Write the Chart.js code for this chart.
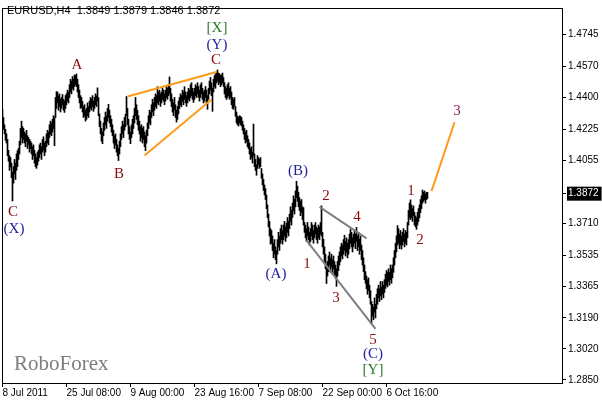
<!DOCTYPE html>
<html>
<head>
<meta charset="utf-8">
<script src="https://cdn.jsdelivr.net/npm/chart.js@4.4.1/dist/chart.umd.min.js"></script>
<style>
  html, body { margin: 0; padding: 0; background: #fff; }
  canvas { display: block; }
</style>
</head>
<body>
<canvas id="chart" width="602" height="401"></canvas>
<script>
// EURUSD H4 bars, one per pixel column: low / high
var lows = [
  1.4270,1.4225,1.4200,1.4165,1.4150,1.4080,1.4050,1.4000,1.4020,1.3960,
  1.3832,1.3930,1.3980,1.3950,1.4000,1.4020,1.4060,1.4090,1.4140,1.4180,
  1.4150,1.4170,1.4150,1.4130,1.4160,1.4120,1.4140,1.4100,1.4120,1.4090,
  1.4060,1.4080,1.4040,1.4020,1.4011,1.4030,1.4050,1.4070,1.4090,1.4060,
  1.4100,1.4110,1.4080,1.4100,1.4130,1.4150,1.4140,1.4180,1.4200,1.4190,
  1.4210,1.4230,1.4135,1.4290,1.4340,1.4370,1.4330,1.4350,1.4320,1.4340,
  1.4360,1.4330,1.4318,1.4340,1.4360,1.4380,1.4370,1.4400,1.4430,1.4420,
  1.4450,1.4440,1.4460,1.4470,1.4460,1.4430,1.4400,1.4370,1.4340,1.4346,
  1.4320,1.4290,1.4300,1.4270,1.4280,1.4300,1.4290,1.4320,1.4340,1.4330,
  1.4350,1.4324,1.4340,1.4360,1.4350,1.4380,1.4300,1.4240,1.4200,1.4160,
  1.4146,1.4190,1.4220,1.4250,1.4230,1.4270,1.4290,1.4260,1.4240,1.4210,
  1.4190,1.4150,1.4120,1.4140,1.4100,1.4080,1.4054,1.4090,1.4130,1.4170,
  1.4200,1.4180,1.4220,1.4240,1.4300,1.4250,1.4200,1.4170,1.4146,1.4180,
  1.4200,1.4230,1.4260,1.4300,1.4280,1.4250,1.4220,1.4200,1.4160,1.4180,
  1.4150,1.4170,1.4130,1.4108,1.4150,1.4190,1.4230,1.4260,1.4250,1.4290,
  1.4320,1.4300,1.4330,1.4350,1.4340,1.4370,1.4360,1.4380,1.4351,1.4370,
  1.4390,1.4380,1.4360,1.4380,1.4400,1.4390,1.4410,1.4420,1.4380,1.4350,
  1.4320,1.4300,1.4330,1.4290,1.4265,1.4280,1.4310,1.4340,1.4360,1.4350,
  1.4380,1.4360,1.4390,1.4370,1.4351,1.4370,1.4390,1.4380,1.4400,1.4410,
  1.4390,1.4373,1.4390,1.4410,1.4400,1.4420,1.4400,1.4380,1.4400,1.4420,
  1.4390,1.4370,1.4380,1.4400,1.4370,1.4335,1.4390,1.4420,1.4440,1.4410,
  1.4324,1.4430,1.4460,1.4450,1.4480,1.4490,1.4470,1.4480,1.4459,1.4470,
  1.4480,1.4460,1.4420,1.4400,1.4389,1.4400,1.4410,1.4390,1.4400,1.4360,
  1.4340,1.4335,1.4350,1.4297,1.4260,1.4250,1.4243,1.4260,1.4250,1.4243,
  1.4220,1.4200,1.4170,1.4150,1.4160,1.4130,1.4119,1.4090,1.4060,1.4070,
  1.4040,1.4080,1.4020,1.4000,1.3973,1.4010,1.4030,1.4011,1.4020,1.3957,
  1.3920,1.3890,1.3865,1.3840,1.3790,1.3740,1.3690,1.3640,1.3595,1.3600,
  1.3560,1.3520,1.3540,1.3510,1.3487,1.3540,1.3580,1.3560,1.3600,1.3620,
  1.3595,1.3620,1.3640,1.3610,1.3630,1.3660,1.3640,1.3680,1.3720,1.3700,
  1.3741,1.3780,1.3760,1.3800,1.3850,1.3830,1.3800,1.3780,1.3751,1.3770,
  1.3730,1.3700,1.3660,1.3630,1.3610,1.3640,1.3620,1.3590,1.3610,1.3640,
  1.3620,1.3600,1.3630,1.3650,1.3620,1.3600,1.3630,1.3620,1.3650,1.3640,
  1.3580,1.3540,1.3500,1.3460,1.3379,1.3420,1.3444,1.3480,1.3440,1.3470,
  1.3430,1.3460,1.3420,1.3406,1.3363,1.3420,1.3450,1.3480,1.3500,1.3530,
  1.3514,1.3540,1.3560,1.3530,1.3550,1.3520,1.3540,1.3570,1.3600,1.3580,
  1.3552,1.3580,1.3600,1.3570,1.3610,1.3560,1.3580,1.3540,1.3560,1.3510,
  1.3480,1.3444,1.3400,1.3380,1.3350,1.3320,1.3340,1.3300,1.3265,1.3157,
  1.3200,1.3180,1.3220,1.3190,1.3240,1.3265,1.3300,1.3280,1.3310,1.3290,
  1.3320,1.3300,1.3330,1.3352,1.3370,1.3360,1.3390,1.3370,1.3400,1.3380,
  1.3410,1.3440,1.3480,1.3520,1.3552,1.3590,1.3600,1.3570,1.3590,1.3568,
  1.3590,1.3610,1.3580,1.3600,1.3590,1.3630,1.3700,1.3740,1.3730,1.3740,
  1.3720,1.3750,1.3700,1.3690,1.3676,1.3700,1.3720,1.3740,1.3768,1.3790,
  1.3820,1.3830,1.3838,1.3820,1.3840,1.3846
];
var highs = [
  1.4335,1.4290,1.4250,1.4225,1.4200,1.4170,1.4110,1.4080,1.4070,1.4040,
  1.3990,1.4020,1.4060,1.4040,1.4090,1.4108,1.4120,1.4160,1.4230,1.4270,
  1.4240,1.4230,1.4210,1.4200,1.4220,1.4190,1.4180,1.4170,1.4160,1.4150,
  1.4130,1.4140,1.4110,1.4090,1.4070,1.4100,1.4110,1.4140,1.4150,1.4130,
  1.4170,1.4184,1.4150,1.4160,1.4200,1.4220,1.4210,1.4250,1.4270,1.4260,
  1.4280,1.4300,1.4290,1.4400,1.4432,1.4430,1.4410,1.4420,1.4390,1.4400,
  1.4416,1.4390,1.4380,1.4410,1.4420,1.4440,1.4430,1.4470,1.4500,1.4490,
  1.4515,1.4500,1.4524,1.4520,1.4529,1.4500,1.4470,1.4440,1.4410,1.4400,
  1.4378,1.4350,1.4360,1.4330,1.4340,1.4370,1.4350,1.4380,1.4400,1.4390,
  1.4410,1.4380,1.4400,1.4420,1.4410,1.4453,1.4400,1.4310,1.4270,1.4230,
  1.4210,1.4260,1.4290,1.4320,1.4300,1.4340,1.4362,1.4330,1.4300,1.4280,
  1.4250,1.4220,1.4190,1.4200,1.4170,1.4140,1.4120,1.4160,1.4200,1.4240,
  1.4270,1.4250,1.4290,1.4308,1.4405,1.4340,1.4280,1.4240,1.4210,1.4250,
  1.4280,1.4300,1.4340,1.4400,1.4360,1.4330,1.4300,1.4270,1.4240,1.4250,
  1.4230,1.4240,1.4210,1.4190,1.4220,1.4260,1.4300,1.4330,1.4320,1.4360,
  1.4390,1.4370,1.4400,1.4420,1.4410,1.4459,1.4430,1.4440,1.4420,1.4430,
  1.4450,1.4440,1.4420,1.4440,1.4460,1.4450,1.4470,1.4513,1.4450,1.4420,
  1.4390,1.4370,1.4400,1.4360,1.4330,1.4350,1.4380,1.4400,1.4420,1.4410,
  1.4440,1.4430,1.4459,1.4430,1.4410,1.4430,1.4450,1.4440,1.4470,1.4481,
  1.4450,1.4430,1.4450,1.4470,1.4460,1.4481,1.4460,1.4440,1.4470,1.4481,
  1.4450,1.4430,1.4440,1.4460,1.4440,1.4410,1.4450,1.4490,1.4510,1.4480,
  1.4450,1.4500,1.4520,1.4530,1.4540,1.4551,1.4534,1.4530,1.4520,1.4525,
  1.4534,1.4510,1.4481,1.4460,1.4450,1.4470,1.4481,1.4450,1.4460,1.4430,
  1.4400,1.4389,1.4400,1.4350,1.4320,1.4297,1.4290,1.4300,1.4297,1.4290,
  1.4270,1.4250,1.4230,1.4210,1.4220,1.4190,1.4170,1.4150,1.4120,1.4130,
  1.4100,1.4254,1.4090,1.4060,1.4030,1.4081,1.4070,1.4060,1.4070,1.4010,
  1.3980,1.3950,1.3920,1.3900,1.3865,1.3810,1.3760,1.3720,1.3680,1.3670,
  1.3640,1.3600,1.3620,1.3580,1.3560,1.3620,1.3660,1.3640,1.3680,1.3700,
  1.3670,1.3700,1.3720,1.3690,1.3710,1.3741,1.3720,1.3760,1.3800,1.3780,
  1.3820,1.3860,1.3840,1.3887,1.3940,1.3913,1.3880,1.3850,1.3830,1.3840,
  1.3800,1.3795,1.3714,1.3700,1.3680,1.3714,1.3690,1.3660,1.3680,1.3714,
  1.3700,1.3670,1.3700,1.3714,1.3690,1.3680,1.3700,1.3690,1.3714,1.3805,
  1.3660,1.3622,1.3580,1.3540,1.3480,1.3500,1.3530,1.3552,1.3520,1.3540,
  1.3510,1.3530,1.3500,1.3480,1.3460,1.3500,1.3530,1.3552,1.3580,1.3600,
  1.3590,1.3620,1.3644,1.3610,1.3630,1.3600,1.3620,1.3650,1.3676,1.3660,
  1.3630,1.3650,1.3670,1.3650,1.3687,1.3640,1.3660,1.3622,1.3640,1.3590,
  1.3560,1.3520,1.3480,1.3444,1.3420,1.3400,1.3410,1.3370,1.3340,1.3280,
  1.3265,1.3250,1.3300,1.3265,1.3320,1.3350,1.3370,1.3350,1.3390,1.3360,
  1.3390,1.3370,1.3400,1.3430,1.3450,1.3440,1.3460,1.3440,1.3481,1.3460,
  1.3481,1.3520,1.3560,1.3600,1.3640,1.3697,1.3680,1.3650,1.3670,1.3640,
  1.3660,1.3680,1.3650,1.3670,1.3660,1.3714,1.3780,1.3820,1.3838,1.3810,
  1.3790,1.3805,1.3770,1.3750,1.3740,1.3770,1.3790,1.3810,1.3840,1.3860,
  1.3892,1.3880,1.3887,1.3870,1.3880,1.3879
];

var xTickBars = [0, 64, 128, 192, 256, 320, 384];
var xTickLabels = ['8 Jul 2011', '25 Jul 08:00', '9 Aug 00:00', '23 Aug 16:00', '7 Sep 08:00', '22 Sep 00:00', '6 Oct 16:00'];
var yTicks = [1.4745, 1.4570, 1.4400, 1.4225, 1.4055, 1.3872, 1.3710, 1.3535, 1.3365, 1.3190, 1.3020, 1.2850];
var lastPrice = 1.3872;
var header = 'EURUSD,H4  1.3849 1.3879 1.3846 1.3872';

// trend lines: [bar, price] pairs
var orangeUpper = [[125, 1.4405], [214, 1.4540]];
var orangeLower = [[142, 1.4081], [209, 1.4389]];
var orangeTarget = [[429, 1.3886], [452, 1.4264]];
var greyUpper = [[317, 1.3800], [364, 1.3627]];
var greyLower = [[304, 1.3616], [373, 1.3130]];

// wave marks
var waveText  = ['A', 'B', 'C', '(X)', 'C', '(Y)', '[X]', '(A)', '(B)', '1', '2', '3', '4', '5', '(C)', '[Y]', '1', '2', '3'];
var waveBar   = [74.5, 116.5, 10.5, 11.5, 213.5, 214.5, 214.5, 273.5, 295.5, 304.5, 323.5, 333.5, 354.5, 370.5, 370.5, 370.5, 408.5, 417.5, 454.5];
var wavePrice = [1.4578, 1.3978, 1.3773, 1.3676, 1.4605, 1.4686, 1.4783, 1.3433, 1.3994, 1.3487, 1.3859, 1.3298, 1.3741, 1.3071, 1.2990, 1.2904, 1.3886, 1.3616, 1.4324];
var waveKind  = ['m', 'm', 'm', 'i', 'm', 'i', 'p', 'i', 'i', 'm', 'm', 'm', 'm', 'm', 'i', 'p', 'm', 'm', 't'];
var kindColor = { m: '#8b0a0a', i: '#22229c', p: '#2e7a2a', t: '#8b1c5e' };

var uiFont = '"Liberation Sans", Arial, sans-serif';

function linePts(p) {
  return p.map(function (q) { return { x: q[0], y: q[1] }; });
}
function lineSet(p, color) {
  return { type: 'line', data: linePts(p), borderColor: color, borderWidth: 2, pointRadius: 0, tension: 0, order: 0 };
}

var overlay = {
  id: 'overlay',
  afterDraw: function (chart) {
    var ctx = chart.ctx, a = chart.chartArea;
    var xs = chart.scales.x, ys = chart.scales.y;
    ctx.save();
    ctx.strokeStyle = '#000';
    ctx.lineWidth = 1;
    ctx.strokeRect(a.left + 0.5, a.top + 0.5, a.right - a.left, a.bottom - a.top);

    ctx.fillStyle = '#000';
    ctx.font = '11px ' + uiFont;
    ctx.textAlign = 'left';
    ctx.textBaseline = 'middle';
    ctx.fillText(header, 7, 11);

    ctx.fillStyle = '#7d7d7d';
    ctx.font = '21px "Liberation Serif", "Times New Roman", serif';
    ctx.textBaseline = 'alphabetic';
    ctx.fillText('RoboForex', 14, 370);

    ctx.font = '15px "Liberation Serif", "Times New Roman", serif';
    ctx.textAlign = 'center';
    ctx.textBaseline = 'middle';
    for (var i = 0; i < waveText.length; i++) {
      ctx.fillStyle = kindColor[waveKind[i]];
      ctx.fillText(waveText[i], xs.getPixelForValue(waveBar[i]), ys.getPixelForValue(wavePrice[i]));
    }
    ctx.restore();
  }
};

var bars = lows.map(function (lo, i) { return { x: i, y: [lo, highs[i]] }; });

new Chart(document.getElementById('chart').getContext('2d'), {
  type: 'bar',
  data: {
    datasets: [
      { type: 'bar', data: bars, backgroundColor: '#000', borderWidth: 0, barThickness: 1, order: 1 },
      lineSet(orangeUpper, '#ff9a1a'),
      lineSet(orangeLower, '#ff9a1a'),
      lineSet(orangeTarget, '#ff9a1a'),
      lineSet(greyUpper, '#7f7f7f'),
      lineSet(greyLower, '#7f7f7f')
    ]
  },
  options: {
    responsive: false,
    animation: false,
    layout: { padding: { left: 2, top: 2, right: 0, bottom: 0 } },
    plugins: { legend: { display: false }, tooltip: { enabled: false } },
    scales: {
      x: {
        type: 'linear',
        min: -0.5,
        max: 559.5,
        offset: false,
        grid: { display: true, offset: false, drawOnChartArea: false, drawTicks: true, tickLength: 4, color: '#000' },
        border: { display: true, color: '#000' },
        afterBuildTicks: function (s) { s.ticks = xTickBars.map(function (v) { return { value: v }; }); },
        afterFit: function (s) { s.height = 18; },
        ticks: {
          autoSkip: false, maxRotation: 0, minRotation: 0, align: 'start', padding: 0, color: '#000',
          font: { family: uiFont, size: 10 },
          callback: function (v) { return xTickLabels[xTickBars.indexOf(v)]; }
        }
      },
      y: {
        position: 'right',
        min: 1.2833,
        max: 1.4891,
        grid: { display: true, drawOnChartArea: false, drawTicks: true, tickLength: 4, color: '#000' },
        border: { display: true, color: '#000' },
        afterBuildTicks: function (s) { s.ticks = yTicks.map(function (v) { return { value: v }; }); },
        afterFit: function (s) { s.width = 40; },
        ticks: {
          autoSkip: false, padding: 2,
          font: { family: uiFont, size: 10 },
          color: function (c) { return c.tick && c.tick.value === lastPrice ? '#fff' : '#000'; },
          showLabelBackdrop: function (c) { return !!(c.tick && c.tick.value === lastPrice); },
          backdropColor: '#000',
          backdropPadding: { top: 1, bottom: 1, left: 1, right: 3 },
          callback: function (v) { return v.toFixed(4); }
        }
      }
    }
  },
  plugins: [overlay]
});
</script>
</body>
</html>
